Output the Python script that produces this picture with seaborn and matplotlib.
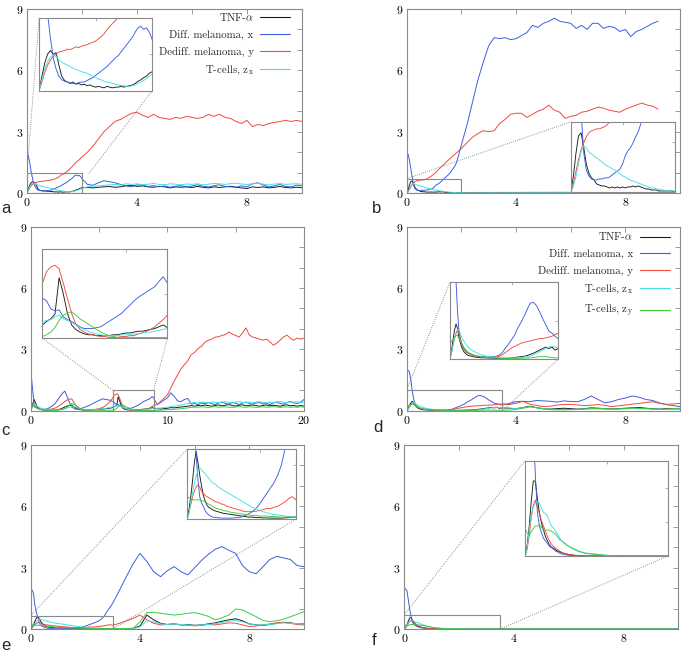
import numpy as np
import pandas as pd
import matplotlib
matplotlib.use("Agg")
import matplotlib.pyplot as plt
import seaborn as sns
from matplotlib.patches import Rectangle
from matplotlib.lines import Line2D
from matplotlib.ticker import MultipleLocator

sns.set_theme(style="white")
plt.rcParams.update({
    "font.family": ["cmr10", "DejaVu Serif"],
    "mathtext.fontset": "cm",
    "axes.formatter.use_mathtext": True,
    "axes.unicode_minus": False,
})

# ---------------- series names / labels / colours ----------------
NAMES = ["TNF", "x", "y", "zx", "zy"]
LABELS = {"TNF": r"TNF-$\alpha$", "x": "Diff. melanoma, x", "y": "Dediff. melanoma, y",
          "zx": r"T-cells, z$_{\mathrm{x}}$", "zy": r"T-cells, z$_{\mathrm{y}}$"}
COL = {"TNF": "#1c1c1c", "x": "#3b5ee3", "y": "#f04b3b", "zx": "#40e2e2", "zy": "#3ccc3c"}


def grid(*segs):
    return np.round(np.concatenate([np.arange(a, b + s / 2, s) for a, b, s in segs]), 3)


# ---------------- panel a ----------------
t_a = grid((0, 2, 0.05), (2.2, 10, 0.2))
a_tnf = [0.00, 0.20, 0.38, 0.50, 0.55, 0.50, 0.52, 0.35, 0.20, 0.14,
         0.12, 0.10, 0.12, 0.09, 0.10, 0.08, 0.09, 0.07, 0.08, 0.06,
         0.05, 0.06, 0.05, 0.04, 0.06, 0.05, 0.04, 0.05, 0.05, 0.06,
         0.05, 0.06, 0.07, 0.08, 0.10, 0.13, 0.15, 0.18, 0.20, 0.24,
         0.26,
         0.27, 0.25, 0.28, 0.30, 0.32, 0.28, 0.30, 0.35, 0.38, 0.32,
         0.35, 0.30, 0.28, 0.33, 0.30, 0.25, 0.30, 0.28, 0.30, 0.27,
         0.32, 0.28, 0.25, 0.30, 0.27, 0.30, 0.33, 0.28, 0.25, 0.22,
         0.30, 0.27, 0.30, 0.25, 0.28, 0.32, 0.27, 0.25, 0.28, 0.26]
a_x = [2.00, 1.80, 1.50, 1.05, 0.72, 0.45, 0.30, 0.20, 0.15, 0.13,
       0.12, 0.11, 0.10, 0.10, 0.11, 0.12, 0.12, 0.14, 0.16, 0.18,
       0.21, 0.24, 0.27, 0.30, 0.33, 0.37, 0.41, 0.45, 0.48, 0.53,
       0.58, 0.63, 0.68, 0.73, 0.80, 0.86, 0.88, 0.84, 0.86, 0.80,
       0.70,
       0.42, 0.38, 0.50, 0.60, 0.55, 0.50, 0.42, 0.35, 0.30, 0.40,
       0.38, 0.32, 0.36, 0.30, 0.35, 0.28, 0.33, 0.36, 0.30, 0.34,
       0.40, 0.33, 0.30, 0.36, 0.40, 0.32, 0.30, 0.28, 0.35, 0.30,
       0.45, 0.50, 0.38, 0.30, 0.35, 0.42, 0.32, 0.30, 0.38, 0.35]
a_y = [0.00, 0.12, 0.25, 0.35, 0.42, 0.47, 0.50, 0.53, 0.54, 0.55,
       0.57, 0.56, 0.58, 0.60, 0.59, 0.61, 0.62, 0.63, 0.65, 0.66,
       0.68, 0.71, 0.74, 0.78, 0.83, 0.88, 0.92, 0.96, 1.00, 1.05,
       1.10, 1.17, 1.24, 1.30, 1.38, 1.45, 1.52, 1.58, 1.63, 1.70,
       1.76,
       2.00, 2.30, 2.65, 3.00, 3.25, 3.50, 3.60, 3.75, 3.90, 3.95,
       3.80, 3.70, 3.85, 3.70, 3.65, 3.60, 3.70, 3.65, 3.75, 3.70,
       3.65, 3.70, 3.85, 3.75, 3.85, 3.70, 3.65, 3.50, 3.40, 3.55,
       3.25, 3.35, 3.30, 3.40, 3.45, 3.50, 3.55, 3.50, 3.55, 3.50]
a_zx = [0.00, 0.15, 0.30, 0.40, 0.46, 0.48, 0.47, 0.42, 0.39, 0.37,
        0.35, 0.33, 0.31, 0.29, 0.28, 0.26, 0.25, 0.24, 0.22, 0.20,
        0.18, 0.16, 0.15, 0.13, 0.12, 0.11, 0.10, 0.09, 0.08, 0.07,
        0.07, 0.06, 0.06, 0.07, 0.08, 0.10, 0.12, 0.14, 0.17, 0.20,
        0.23,
        0.30, 0.33, 0.35, 0.38, 0.40, 0.42, 0.38, 0.45, 0.42, 0.45,
        0.40, 0.43, 0.47, 0.42, 0.40, 0.45, 0.43, 0.40, 0.44, 0.42,
        0.45, 0.40, 0.43, 0.47, 0.45, 0.42, 0.46, 0.48, 0.44, 0.42,
        0.45, 0.48, 0.43, 0.40, 0.44, 0.46, 0.42, 0.44, 0.45, 0.43]

# ---------------- panel b ----------------
t_b = grid((0, 2, 0.05), (2.2, 9.2, 0.2))
b_tnf = [0.00, 0.15, 0.38, 0.56, 0.59, 0.45, 0.28, 0.19, 0.14, 0.12,
         0.08, 0.07, 0.06, 0.06, 0.05, 0.04, 0.05, 0.04, 0.05, 0.04,
         0.05, 0.04, 0.05, 0.05, 0.06, 0.05, 0.06, 0.05, 0.04, 0.03,
         0.03, 0.02, 0.02, 0.02, 0.01, 0.01, 0.01, 0.01, 0.01, 0.01,
         0.00] + [0.0] * 36
b_x = [2.00, 1.90, 1.60, 1.20, 0.80, 0.40, 0.22, 0.16, 0.13, 0.12,
       0.12, 0.13, 0.13, 0.14, 0.14, 0.15, 0.17, 0.19, 0.21, 0.23,
       0.28, 0.36, 0.41, 0.44, 0.49, 0.55, 0.60, 0.68, 0.74, 0.80,
       0.86, 0.93, 1.00, 1.10, 1.20, 1.30, 1.42, 1.62, 1.85, 2.10,
       2.35,
       3.30, 4.40, 5.50, 6.40, 7.20, 7.60, 7.55, 7.60, 7.50, 7.55,
       7.70, 7.85, 8.20, 8.10, 8.30, 8.40, 8.55, 8.40, 8.35, 8.30,
       8.05, 8.20, 8.00, 8.30, 8.30, 8.05, 8.15, 8.10, 7.90, 8.00,
       7.65, 7.90, 8.00, 8.15, 8.30, 8.40]
b_y = [0.00, 0.08, 0.20, 0.32, 0.42, 0.49, 0.55, 0.59, 0.61, 0.62,
       0.63, 0.63, 0.64, 0.65, 0.67, 0.70, 0.74, 0.78, 0.83, 0.88,
       0.93, 0.99, 1.05, 1.12, 1.20, 1.26, 1.32, 1.38, 1.45, 1.52,
       1.58, 1.64, 1.70, 1.76, 1.82, 1.88, 1.94, 2.00, 2.06, 2.12,
       2.18,
       2.45, 2.72, 2.90, 3.05, 3.00, 3.05, 3.40, 3.60, 3.85, 3.90,
       3.90, 3.70, 3.85, 4.00, 4.10, 4.30, 4.05, 3.95, 3.65, 3.75,
       3.80, 3.95, 4.00, 4.10, 4.20, 4.15, 4.05, 4.00, 3.95, 4.10,
       4.20, 4.30, 4.40, 4.30, 4.25, 4.10]
b_zx = [0.00, 0.05, 0.15, 0.28, 0.40, 0.46, 0.44, 0.40, 0.38, 0.36,
        0.34, 0.32, 0.30, 0.28, 0.26, 0.25, 0.23, 0.22, 0.20, 0.18,
        0.16, 0.15, 0.13, 0.12, 0.11, 0.10, 0.09, 0.08, 0.07, 0.06,
        0.05, 0.04, 0.04, 0.03, 0.03, 0.02, 0.02, 0.01, 0.01, 0.01,
        0.01] + [0.0] * 36

# ---------------- panel c ----------------
t_c = grid((0, 6, 0.25), (6.1, 9, 0.1), (9.25, 20, 0.25))
c_tnf = [0.00, 0.55, 0.15, 0.05, 0.03, 0.02, 0.02, 0.03, 0.05, 0.10,
         0.18, 0.25, 0.27, 0.15, 0.07, 0.04, 0.03, 0.03, 0.04, 0.05,
         0.07, 0.08, 0.10, 0.12, 0.15,
         0.19, 0.22, 0.27, 0.68, 0.50, 0.28, 0.15, 0.10, 0.07, 0.05,
         0.04, 0.04, 0.03, 0.03, 0.03, 0.03, 0.04, 0.04, 0.05, 0.06,
         0.06, 0.07, 0.08, 0.08, 0.09, 0.10, 0.11, 0.13, 0.15, 0.12,
         0.10, 0.08, 0.10, 0.12, 0.15, 0.14, 0.16, 0.18, 0.20, 0.22,
         0.25, 0.22, 0.26, 0.24, 0.28, 0.25, 0.22, 0.26, 0.28, 0.24,
         0.27, 0.30, 0.25, 0.23, 0.27, 0.29, 0.24, 0.26, 0.28, 0.25,
         0.22, 0.26, 0.28, 0.24, 0.27, 0.25, 0.22, 0.26, 0.29, 0.24,
         0.26, 0.22, 0.25, 0.23]
c_x = [2.00, 0.30, 0.11, 0.08, 0.07, 0.10, 0.20, 0.32, 0.55, 0.80,
       0.96, 0.55, 0.18, 0.08, 0.07, 0.12, 0.18, 0.25, 0.33, 0.42,
       0.50, 0.58, 0.55, 0.52, 0.45,
       0.42, 0.33, 0.31, 0.32, 0.24, 0.21, 0.19, 0.16, 0.13, 0.11,
       0.11, 0.11, 0.12, 0.13, 0.16, 0.19, 0.22, 0.25, 0.28, 0.33,
       0.37, 0.42, 0.46, 0.49, 0.52, 0.55, 0.58, 0.64, 0.69, 0.62,
       0.30, 0.40, 0.52, 0.62, 0.88, 0.70, 0.48, 0.44, 0.55, 0.60,
       0.32, 0.35, 0.30, 0.38, 0.33, 0.40, 0.35, 0.30, 0.38, 0.42,
       0.35, 0.32, 0.40, 0.36, 0.30, 0.38, 0.42, 0.35, 0.32, 0.38,
       0.40, 0.33, 0.36, 0.30, 0.38, 0.42, 0.35, 0.32, 0.40, 0.45,
       0.38, 0.35, 0.42, 0.55]
c_y = [0.35, 0.20, 0.10, 0.06, 0.05, 0.05, 0.08, 0.12, 0.20, 0.32,
       0.45, 0.55, 0.58, 0.30, 0.10, 0.05, 0.04, 0.04, 0.05, 0.07,
       0.10, 0.15, 0.25, 0.40, 0.62,
       0.75, 0.80, 0.82, 0.78, 0.62, 0.45, 0.28, 0.16, 0.10, 0.07,
       0.05, 0.04, 0.03, 0.02, 0.02, 0.01, 0.01, 0.01, 0.02, 0.02,
       0.03, 0.03, 0.05, 0.06, 0.08, 0.10, 0.13, 0.17, 0.21, 0.26,
       0.30, 0.45, 0.60, 0.78, 1.10, 1.45, 1.75, 2.05, 2.25, 2.45,
       2.75, 2.85, 3.05, 3.15, 3.35, 3.45, 3.50, 3.60, 3.62, 3.68,
       3.72, 3.85, 3.75, 3.68, 3.60, 3.80, 4.05, 3.70, 3.60, 3.55,
       3.50, 3.45, 3.50, 3.38, 3.20, 3.30, 3.45, 3.60, 3.70, 3.55,
       3.45, 3.55, 3.50, 3.55]
c_zx = [0.00, 0.30, 0.22, 0.12, 0.07, 0.04, 0.03, 0.03, 0.04, 0.06,
        0.10, 0.15, 0.20, 0.18, 0.12, 0.08, 0.05, 0.04, 0.04, 0.05,
        0.07, 0.09, 0.12, 0.15, 0.19,
        0.20, 0.21, 0.24, 0.26, 0.22, 0.20, 0.18, 0.15, 0.12, 0.10,
        0.08, 0.06, 0.05, 0.04, 0.03, 0.03, 0.03, 0.03, 0.04, 0.04,
        0.04, 0.05, 0.05, 0.06, 0.07, 0.07, 0.08, 0.09, 0.10, 0.11,
        0.12, 0.13, 0.15, 0.17, 0.20, 0.22, 0.25, 0.28, 0.32, 0.35,
        0.38, 0.40, 0.37, 0.42, 0.40, 0.38, 0.43, 0.41, 0.39, 0.42,
        0.44, 0.40, 0.38, 0.42, 0.45, 0.41, 0.39, 0.43, 0.40, 0.42,
        0.44, 0.41, 0.38, 0.42, 0.40, 0.43, 0.45, 0.41, 0.40, 0.43,
        0.42, 0.44, 0.40, 0.42]
c_zy = [0.25, 0.22, 0.12, 0.06, 0.03, 0.02, 0.02, 0.02, 0.03, 0.05,
        0.10, 0.22, 0.35, 0.30, 0.15, 0.07, 0.03, 0.02, 0.02, 0.02,
        0.02, 0.02, 0.02, 0.02, 0.02,
        0.04, 0.07, 0.12, 0.20, 0.26, 0.28, 0.30, 0.26, 0.22, 0.19,
        0.16, 0.13, 0.10, 0.07, 0.05, 0.03, 0.02, 0.01, 0.01, 0.01,
        0.01, 0.01, 0.01, 0.01, 0.01, 0.01, 0.01, 0.01, 0.01, 0.01,
        0.02, 0.03, 0.04, 0.05, 0.06, 0.07, 0.08, 0.10, 0.12, 0.14,
        0.16, 0.18, 0.17, 0.19, 0.18, 0.16, 0.18, 0.20, 0.17, 0.18,
        0.19, 0.17, 0.16, 0.18, 0.20, 0.18, 0.17, 0.19, 0.18, 0.16,
        0.18, 0.19, 0.17, 0.18, 0.20, 0.18, 0.16, 0.18, 0.19, 0.17,
        0.18, 0.17, 0.19, 0.18]

# ---------------- panel d ----------------
t_d = grid((0, 1, 0.05), (1.1, 3.5, 0.1), (3.75, 10, 0.25))
d_tnf = [0.00, 0.10, 0.25, 0.38, 0.46, 0.40, 0.27, 0.20, 0.14, 0.10,
         0.08, 0.06, 0.05, 0.045, 0.04, 0.035, 0.03, 0.03, 0.025, 0.025,
         0.02,
         0.02, 0.02, 0.018, 0.015, 0.015, 0.013, 0.013, 0.013, 0.015, 0.02,
         0.025, 0.03, 0.035, 0.04, 0.05, 0.065, 0.08, 0.10, 0.12, 0.14,
         0.16, 0.14, 0.16, 0.12, 0.14,
         0.12, 0.10, 0.15, 0.22, 0.15, 0.10, 0.08, 0.10, 0.12, 0.10,
         0.08, 0.10, 0.14, 0.12, 0.10, 0.08, 0.10, 0.12, 0.14, 0.16,
         0.12, 0.10, 0.08, 0.10, 0.09, 0.08]
d_x = [2.00, 1.98, 1.90, 1.50, 1.00, 0.60, 0.35, 0.25, 0.18, 0.14,
       0.11, 0.09, 0.08, 0.07, 0.06, 0.056, 0.05, 0.045, 0.04, 0.04,
       0.035,
       0.035, 0.03, 0.035, 0.035, 0.04, 0.056, 0.09, 0.15, 0.20, 0.26,
       0.32, 0.41, 0.48, 0.56, 0.65, 0.73, 0.74, 0.70, 0.62, 0.53,
       0.45, 0.37, 0.34, 0.30, 0.27,
       0.36, 0.44, 0.46, 0.44, 0.50, 0.48, 0.46, 0.42, 0.48, 0.45,
       0.44, 0.55, 0.72, 0.55, 0.38, 0.44, 0.55, 0.62, 0.72, 0.66,
       0.55, 0.50, 0.38, 0.30, 0.25, 0.20]
d_y = [0.00, 0.08, 0.18, 0.27, 0.34, 0.37, 0.33, 0.25, 0.19, 0.14,
       0.11, 0.09, 0.08, 0.07, 0.06, 0.056, 0.05, 0.045, 0.04, 0.035,
       0.03,
       0.025, 0.02, 0.02, 0.025, 0.03, 0.04, 0.06, 0.09, 0.12, 0.15,
       0.17, 0.19, 0.21, 0.22, 0.23, 0.24, 0.25, 0.26, 0.27, 0.27,
       0.28, 0.29, 0.30, 0.32, 0.34,
       0.30, 0.36, 0.46, 0.32, 0.26, 0.20, 0.22, 0.28, 0.30, 0.31,
       0.28, 0.25, 0.27, 0.30, 0.26, 0.20, 0.24, 0.28, 0.32, 0.36,
       0.40, 0.44, 0.36, 0.31, 0.33, 0.36]
d_zx = [0.00, 0.08, 0.18, 0.28, 0.35, 0.39, 0.38, 0.32, 0.27, 0.24,
        0.21, 0.18, 0.16, 0.14, 0.12, 0.11, 0.10, 0.09, 0.08, 0.07,
        0.06,
        0.05, 0.04, 0.035, 0.03, 0.025, 0.02, 0.02, 0.02, 0.02, 0.02,
        0.02, 0.02, 0.025, 0.03, 0.035, 0.045, 0.06, 0.08, 0.10, 0.12,
        0.14, 0.16, 0.17, 0.16, 0.15,
        0.13, 0.10, 0.14, 0.18, 0.14, 0.10, 0.07, 0.06, 0.05, 0.06,
        0.07, 0.08, 0.09, 0.08, 0.07, 0.06, 0.07, 0.09, 0.11, 0.10,
        0.09, 0.08, 0.07, 0.06, 0.06, 0.05]
d_zy = [0.21, 0.23, 0.26, 0.29, 0.31, 0.31, 0.27, 0.23, 0.19, 0.16,
        0.13, 0.11, 0.09, 0.08, 0.07, 0.06, 0.055, 0.05, 0.045, 0.04,
        0.035,
        0.03, 0.025, 0.02, 0.02, 0.018, 0.015, 0.013, 0.013, 0.013, 0.013,
        0.013, 0.013, 0.015, 0.015, 0.018, 0.02, 0.025, 0.03, 0.035, 0.035,
        0.035, 0.03, 0.025, 0.02, 0.02,
        0.03, 0.06, 0.12, 0.20, 0.15, 0.08, 0.05, 0.04, 0.04, 0.05,
        0.06, 0.08, 0.10, 0.12, 0.10, 0.08, 0.09, 0.11, 0.13, 0.12,
        0.10, 0.08, 0.07, 0.08, 0.10, 0.12]

# ---------------- panel e ----------------
t_e = grid((0, 1, 0.05), (1.1, 3, 0.1), (3.25, 10, 0.25))
e_tnf = [0.00, 0.08, 0.20, 0.35, 0.52, 0.63, 0.53, 0.41, 0.31, 0.22,
         0.17, 0.13, 0.11, 0.10, 0.09, 0.08, 0.075, 0.07, 0.065, 0.06,
         0.055,
         0.05, 0.045, 0.04, 0.035, 0.03, 0.025, 0.02, 0.02, 0.015, 0.015,
         0.012, 0.012, 0.01, 0.01, 0.01, 0.01, 0.012, 0.015, 0.02, 0.02,
         0.02, 0.02, 0.03, 0.15, 0.68, 0.45, 0.28, 0.22, 0.25, 0.20,
         0.22, 0.18, 0.20, 0.25, 0.30, 0.38, 0.45, 0.50, 0.40, 0.25,
         0.20, 0.18, 0.22, 0.28, 0.33, 0.30, 0.25, 0.25]
e_x = [2.00, 1.90, 1.75, 1.20, 0.85, 0.60, 0.37, 0.21, 0.15, 0.12,
       0.08, 0.056, 0.04, 0.03, 0.02, 0.018, 0.015, 0.013, 0.012, 0.011,
       0.01,
       0.01, 0.01, 0.012, 0.015, 0.02, 0.035, 0.05, 0.07, 0.10, 0.14,
       0.19, 0.24, 0.29, 0.34, 0.41, 0.50, 0.65, 0.88, 1.05, 1.26,
       1.90, 2.56, 3.20, 3.70, 3.30, 2.80, 2.56, 2.85, 3.05, 2.80,
       2.65, 3.00, 3.35, 3.65, 3.90, 4.03, 3.85, 3.70, 3.10, 2.80,
       2.70, 3.05, 3.40, 3.55, 3.48, 3.40, 3.10, 3.05]
e_y = [0.00, 0.06, 0.13, 0.20, 0.26, 0.30, 0.32, 0.30, 0.26, 0.24,
       0.22, 0.21, 0.20, 0.19, 0.18, 0.17, 0.16, 0.16, 0.15, 0.14,
       0.14,
       0.12, 0.11, 0.10, 0.09, 0.08, 0.07, 0.07, 0.07, 0.075, 0.08,
       0.09, 0.10, 0.10, 0.11, 0.12, 0.14, 0.16, 0.19, 0.21, 0.18,
       0.28, 0.40, 0.52, 0.68, 0.45, 0.28, 0.20, 0.22, 0.25, 0.20,
       0.18, 0.15, 0.18, 0.22, 0.20, 0.25, 0.30, 0.28, 0.20, 0.12,
       0.15, 0.20, 0.25, 0.30, 0.32, 0.28, 0.22, 0.20]
e_zx = [0.00, 0.05, 0.14, 0.24, 0.33, 0.40, 0.45, 0.48, 0.46, 0.44,
        0.42, 0.40, 0.38, 0.36, 0.34, 0.33, 0.32, 0.30, 0.29, 0.28,
        0.27,
        0.25, 0.23, 0.21, 0.19, 0.17, 0.15, 0.13, 0.11, 0.10, 0.08,
        0.07, 0.06, 0.05, 0.045, 0.04, 0.035, 0.03, 0.025, 0.02, 0.02,
        0.02, 0.02, 0.03, 0.10, 0.40, 0.35, 0.25, 0.22, 0.24, 0.22,
        0.20, 0.18, 0.20, 0.22, 0.26, 0.32, 0.38, 0.42, 0.35, 0.25,
        0.20, 0.20, 0.22, 0.26, 0.30, 0.28, 0.26, 0.24]
e_zy = [0.21, 0.20, 0.19, 0.18, 0.18, 0.18, 0.18, 0.18, 0.17, 0.17,
        0.16, 0.15, 0.14, 0.13, 0.12, 0.11, 0.10, 0.10, 0.09, 0.09,
        0.08,
        0.075, 0.065, 0.06, 0.055, 0.05, 0.045, 0.04, 0.035, 0.035, 0.03,
        0.03, 0.03, 0.025, 0.025, 0.022, 0.02, 0.02, 0.02, 0.02, 0.02,
        0.02, 0.02, 0.03, 0.35, 0.80, 0.82, 0.77, 0.72, 0.68, 0.72,
        0.77, 0.80, 0.72, 0.62, 0.45, 0.55, 0.68, 0.98, 0.93, 0.77,
        0.60, 0.42, 0.36, 0.40, 0.48, 0.60, 0.72, 0.85]

# ---------------- panel f ----------------
t_f = grid((0, 1.5, 0.05), (1.75, 10, 0.25))
f_tnf = [0.00, 0.08, 0.22, 0.40, 0.55, 0.55, 0.42, 0.32, 0.24, 0.19,
         0.14, 0.11, 0.08, 0.065, 0.055, 0.045, 0.035, 0.03, 0.025, 0.02,
         0.016, 0.013, 0.01, 0.008, 0.006, 0.005, 0.004, 0.003, 0.002, 0.001,
         0.0] + [0.0] * 34
f_x = [2.00, 1.95, 1.85, 1.40, 0.93, 0.60, 0.32, 0.22, 0.17, 0.13,
       0.11, 0.09, 0.07, 0.06, 0.05, 0.035, 0.03, 0.02, 0.015, 0.012,
       0.008, 0.006, 0.005, 0.004, 0.003, 0.002, 0.002, 0.001, 0.001, 0.001,
       0.0] + [0.0] * 34
f_y = [0.00, 0.05, 0.15, 0.28, 0.37, 0.41, 0.36, 0.31, 0.26, 0.22,
       0.18, 0.14, 0.11, 0.085, 0.07, 0.055, 0.045, 0.035, 0.028, 0.02,
       0.015, 0.012, 0.009, 0.007, 0.005, 0.004, 0.003, 0.002, 0.001, 0.001,
       0.0] + [0.0] * 34
f_zx = [0.00, 0.06, 0.20, 0.30, 0.36, 0.39, 0.40, 0.39, 0.35, 0.32,
        0.31, 0.29, 0.25, 0.22, 0.20, 0.18, 0.16, 0.13, 0.11, 0.095,
        0.085, 0.075, 0.068, 0.06, 0.055, 0.048, 0.04, 0.034, 0.03, 0.025,
        0.022] + [0.015, 0.005] + [0.0] * 32
f_zy = [0.20, 0.17, 0.15, 0.18, 0.20, 0.22, 0.22, 0.23, 0.21, 0.19,
        0.19, 0.19, 0.19, 0.18, 0.17, 0.16, 0.14, 0.12, 0.11, 0.10,
        0.085, 0.075, 0.065, 0.055, 0.05, 0.04, 0.035, 0.03, 0.025, 0.02,
        0.018] + [0.01, 0.005, 0.002] + [0.0] * 31

# ---------------- layout (pixels) ----------------
W, H = 685, 652
PANELS = [
    dict(tag="a", box=(27, 9, 302, 193), t=t_a,
         s={"TNF": a_tnf, "x": a_x, "y": a_y, "zx": a_zx},
         xmax=10, xmaj=4, xmin=2, zoom=(0, 0, 2, 1), ins=(0.44, 5.0, 4.11, 3.58),
         links=[((0, 1), (0.44, 8.58)), ((2.25, 0.95), (4.55, 5.0))],
         legend=(0.958, 0.99), lab=(1, 213)),
    dict(tag="b", box=(406.7, 9, 680, 193), t=t_b,
         s={"TNF": b_tnf, "x": b_x, "y": b_y, "zx": b_zx},
         xmax=10, xmaj=4, xmin=2, zoom=(0, 0, 2, 0.7), ins=(6.0, 0.05, 3.8, 3.43),
         links=[((0, 0.7), (6.0, 3.48)), ((2, 0.03), (6.0, 0.05))],
         legend=None, lab=(372, 213)),
    dict(tag="c", box=(30.7, 226.7, 304, 410.7), t=t_c,
         s={"TNF": c_tnf, "x": c_x, "y": c_y, "zx": c_zx, "zy": c_zy},
         xmax=20, xmaj=10, xmin=5, zoom=(6, 0, 3, 1), ins=(0.86, 3.54, 9.14, 4.36),
         links=[((6, 1), (0.86, 3.54)), ((9, 1), (10.0, 3.54))],
         legend=None, lab=(1, 435)),
    dict(tag="d", box=(406.7, 226.7, 680, 410.7), t=t_d,
         s={"TNF": d_tnf, "x": d_x, "y": d_y, "zx": d_zx, "zy": d_zy},
         xmax=10, xmaj=4, xmin=2, zoom=(0, 0, 3.5, 1), ins=(1.58, 2.51, 3.96, 3.77),
         links=[((0, 1), (1.58, 6.28)), ((3.5, 0), (5.54, 2.51))],
         legend=(0.963, 0.98), lab=(373, 432)),
    dict(tag="e", box=(30.7, 445, 304, 629), t=t_e,
         s={"TNF": e_tnf, "x": e_x, "y": e_y, "zx": e_zx, "zy": e_zy},
         xmax=10, xmaj=4, xmin=2, zoom=(0, 0, 3, 0.65), ins=(5.72, 5.37, 3.98, 3.42),
         links=[((0, 0.65), (5.72, 8.79)), ((3, 0), (9.7, 5.37))],
         legend=None, lab=(1, 650)),
    dict(tag="f", box=(404.3, 445, 678.3, 629), t=t_f,
         s={"TNF": f_tnf, "x": f_x, "y": f_y, "zx": f_zx, "zy": f_zy},
         xmax=10, xmaj=4, xmin=2, zoom=(0, 0, 3.5, 0.7), ins=(4.41, 3.57, 5.21, 4.67),
         links=[((0, 0.7), (4.41, 8.24)), ((3.5, 0), (9.62, 3.57))],
         legend=None, lab=(372, 645)),
]

GRAY = "#8a8a8a"


def frame(t, series):
    parts = []
    for name, vals in series.items():
        assert len(vals) == len(t), (name, len(vals), len(t))
        parts.append(pd.DataFrame({"t": t, "v": vals, "s": name}))
    return pd.concat(parts, ignore_index=True)


def draw(ax, df, names, lw):
    sns.lineplot(data=df, x="t", y="v", hue="s", hue_order=names,
                 palette=[COL[n] for n in names], ax=ax, legend=False,
                 linewidth=lw, estimator=None, sort=False)
    ax.set_xlabel("")
    ax.set_ylabel("")


fig = plt.figure(figsize=(W / 100, H / 100), dpi=100)
fig.patch.set_facecolor("white")

for p in PANELS:
    x0, y0, x1, y1 = p["box"]
    ax = fig.add_axes([x0 / W, 1 - y1 / H, (x1 - x0) / W, (y1 - y0) / H])
    names = list(p["s"].keys())
    df = frame(p["t"], p["s"])
    draw(ax, df, names, 0.7)
    ax.set_xlim(0, p["xmax"])
    ax.set_ylim(0, 9)
    ax.xaxis.set_major_locator(MultipleLocator(p["xmaj"]))
    ax.xaxis.set_minor_locator(MultipleLocator(p["xmin"]))
    ax.yaxis.set_major_locator(MultipleLocator(3))
    ax.yaxis.set_minor_locator(MultipleLocator(1))
    ax.tick_params(which="both", direction="in", top=True, right=True, color=GRAY,
                   width=0.6, length=3.5, labelsize=8.5, pad=2.5, labelcolor="black")
    for sp in ax.spines.values():
        sp.set_color(GRAY)
        sp.set_linewidth(0.8)

    # zoom rectangle + connecting dotted lines
    zx0, zy0, zw, zh = p["zoom"]
    ax.add_patch(Rectangle((zx0, zy0), zw, zh, fill=False, ec=GRAY, lw=0.8, zorder=5))
    for a_pt, b_pt in p["links"]:
        ax.plot([a_pt[0], b_pt[0]], [a_pt[1], b_pt[1]], ls=(0, (1, 1.6)),
                color="#707070", lw=0.6, zorder=4)

    ins = ax.inset_axes(list(p["ins"]), transform=ax.transData, zorder=6)
    ins.set_facecolor("white")
    draw(ins, df, names, 0.65)
    ins.set_xlim(zx0, zx0 + zw)
    ins.set_ylim(zy0, zy0 + zh)
    ins.tick_params(which="both", direction="in", top=True, right=True, color=GRAY,
                    width=0.5, length=2, labelbottom=False, labelleft=False)
    for sp in ins.spines.values():
        sp.set_color(GRAY)
        sp.set_linewidth(0.8)

    if p["legend"] is not None:
        handles = [Line2D([], [], color=COL[n], lw=0.8) for n in names]
        ax.legend(handles, [LABELS[n] for n in names], loc="upper right",
                  bbox_to_anchor=p["legend"], frameon=False, markerfirst=False,
                  fontsize=7.8, handlelength=2.8, handletextpad=0.6,
                  labelspacing=0.62, borderpad=0, borderaxespad=0)

    fig.text(p["lab"][0] / W, 1 - p["lab"][1] / H, p["tag"], fontsize=12,
             family=["Liberation Sans", "DejaVu Sans"], va="baseline", ha="left")

fig.savefig("out.png", dpi=100, facecolor="white")
